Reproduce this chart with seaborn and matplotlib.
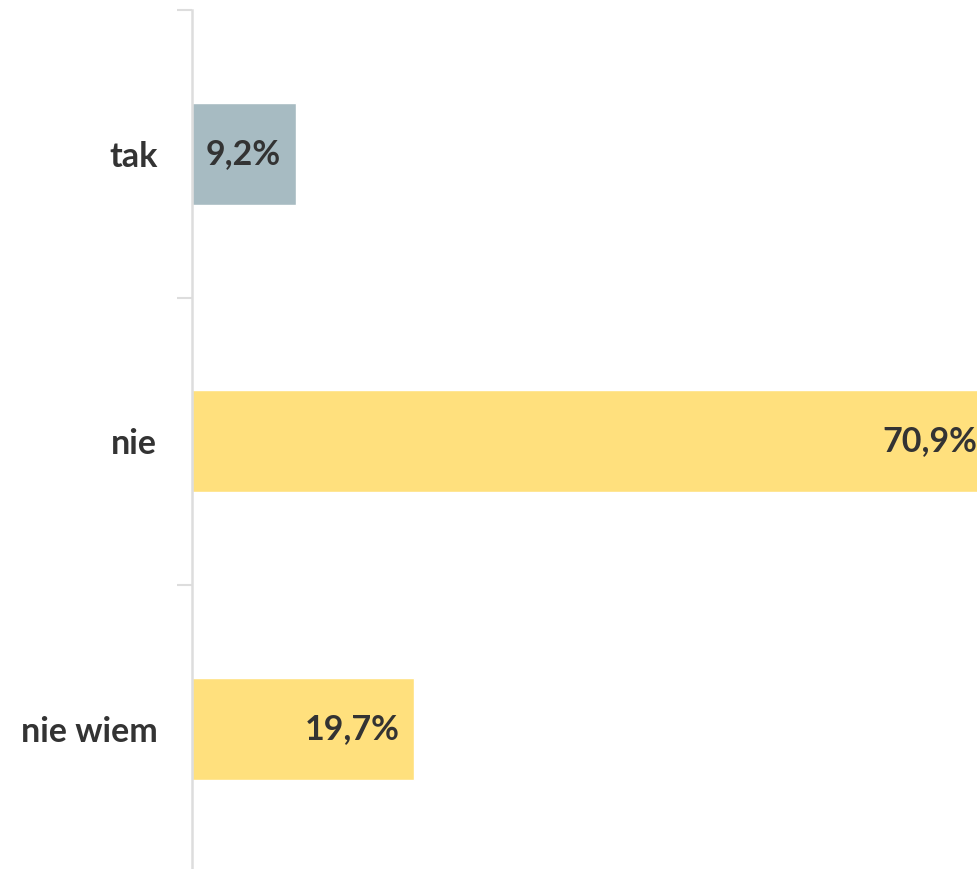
import matplotlib
matplotlib.use("Agg")
import matplotlib.pyplot as plt
import seaborn as sns
import pandas as pd

categories = ["tak", "nie", "nie wiem"]
values = [9.2, 70.9, 19.7]
labels = ["9,2%", "70,9%", "19,7%"]
colors = ["#A7BBC2", "#FFE07D", "#FFE07D"]

sns.set_style("white")
plt.rcParams['font.family'] = ['Lato', 'DejaVu Sans']

df = pd.DataFrame({"kategoria": categories, "wartosc": values})

fig = plt.figure(figsize=(9.78, 8.69), dpi=100)
# axes runs past the right edge so the long bar gets cut like in the source
ax = fig.add_axes([192 / 978, -3.5 / 869, 846 / 978, 862.5 / 869])

sns.barplot(data=df, y="kategoria", x="wartosc", hue="kategoria",
            palette=colors, orient="h", width=0.355, legend=False, ax=ax,
            saturation=1)

ax.set_xlim(0, 75)
ax.set_ylim(2.5, -0.5)
ax.set_xlabel("")
ax.set_ylabel("")
ax.set_xticks([])
ax.set_yticks([-0.5, 0.5, 1.5, 2.5], minor=False)
ax.set_yticklabels([])
ax.set_yticks([0, 1, 2], minor=True)
ax.set_yticklabels(categories, minor=True, fontsize=24.5, fontweight="bold", color="#333333")
ax.tick_params(axis="y", which="major", length=11, width=1.5, color="#DDDDDD", left=True)
ax.tick_params(axis="y", which="minor", length=0, pad=25)

for s in ["top", "right", "bottom"]:
    ax.spines[s].set_visible(False)
ax.spines["left"].set_color("#DDDDDD")
ax.spines["left"].set_linewidth(1.8)

for i, (v, t) in enumerate(zip(values, labels)):
    ax.annotate(t, xy=(v, i), xytext=(-15, 0), textcoords="offset pixels",
                ha="right", va="center", fontsize=24.5, fontweight="bold",
                color="#333333")

fig.savefig("out.png", dpi=100)
